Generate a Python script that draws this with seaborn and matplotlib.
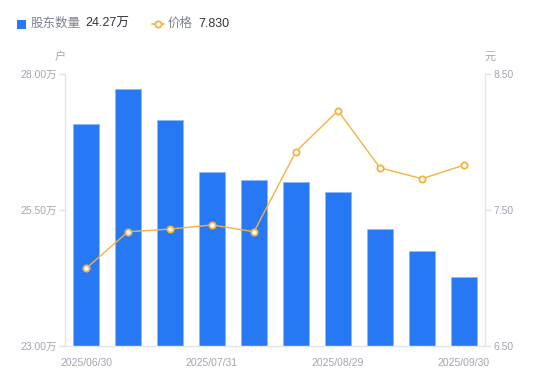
import pandas as pd
import matplotlib
matplotlib.use('Agg')
import matplotlib.pyplot as plt
import seaborn as sns
from matplotlib.lines import Line2D
from matplotlib.patches import Rectangle

# Datos
fechas = ['2025/06/30', '2025/07/10', '2025/07/20', '2025/07/31', '2025/08/08',
          '2025/08/20', '2025/08/29', '2025/09/10', '2025/09/19', '2025/09/30']
accionistas = [27.08, 27.72, 27.15, 26.20, 26.05, 26.01, 25.83, 25.15, 24.75, 24.27]  # 万户
precios = [7.07, 7.34, 7.36, 7.39, 7.34, 7.93, 8.23, 7.81, 7.73, 7.830]
etiquetas_x = ['2025/06/30', '2025/07/31', '2025/08/29', '2025/09/30']
ticks_izq = [23.00, 25.50, 28.00]
ticks_der = [6.50, 7.50, 8.50]

df = pd.DataFrame({'fecha': fechas, 'accionistas': accionistas, 'precio': precios})

sns.set_theme(style='white')
plt.rcParams['font.family'] = ['Liberation Sans', 'Noto Sans CJK SC', 'DejaVu Sans']

azul = '#2778F4'
naranja = '#F5B23D'
gris = '#A3A6B2'
eje = '#E3E4E8'

fig = plt.figure(figsize=(5.5, 3.81), dpi=100)
ax = fig.add_axes([65 / 550, 35 / 381, 420 / 550, 272 / 381])

sns.barplot(data=df, x='fecha', y='accionistas', color=azul, width=0.6,
            saturation=1, edgecolor='#8DB8FA', linewidth=0.6, ax=ax)
ax.set_ylim(23, 28)
ax.set_xlim(-0.5, len(fechas) - 0.5)

ax2 = ax.twinx()
sns.lineplot(data=df, x='fecha', y='precio', sort=False, color=naranja, linewidth=1,
             marker='o', markersize=4.5, markerfacecolor='white',
             markeredgecolor=naranja, markeredgewidth=1.3, ax=ax2)
ax2.set_ylim(6.5, 8.5)
ax2.set_xlim(-0.5, len(fechas) - 0.5)

# Ejes
for a in (ax, ax2):
    for s in a.spines.values():
        s.set_visible(False)
    a.set_xlabel('')
    a.set_ylabel('')
    a.grid(False)
ax.spines['left'].set_visible(True)
ax.spines['bottom'].set_visible(True)
ax2.spines['right'].set_visible(True)
for s in (ax.spines['left'], ax.spines['bottom'], ax2.spines['right']):
    s.set_color(eje)
    s.set_linewidth(1)

ax.set_yticks(ticks_izq)
ax.set_yticklabels([f'{v:.2f}万' for v in ticks_izq])
ax2.set_yticks(ticks_der)
ax2.set_yticklabels([f'{v:.2f}' for v in ticks_der])
ax.set_xticks([fechas.index(f) for f in etiquetas_x])
ax.set_xticklabels(etiquetas_x)

ax.tick_params(axis='y', left=True, length=4, width=1, color=eje, labelsize=7.5,
               labelcolor=gris, pad=2)
ax2.tick_params(axis='y', right=True, length=4, width=1, color=eje, labelsize=7.5,
                labelcolor=gris, pad=2)
ax.tick_params(axis='x', bottom=False, labelsize=7.5, labelcolor=gris, pad=3)

# Unidades
fig.text(60 / 550, 1 - 57 / 381, '户', color=gris, fontsize=8, ha='center', va='center')
fig.text(490 / 550, 1 - 57 / 381, '元', color=gris, fontsize=8, ha='center', va='center')

# Leyenda superior
y_ley = 1 - 24 / 381
fig.patches.append(Rectangle((17 / 550, 1 - 29 / 381), 9 / 550, 9 / 381, transform=fig.transFigure,
                             facecolor=azul, edgecolor='none', figure=fig))
fig.text(31 / 550, y_ley, '股东数量', color='#7E8290', fontsize=9, va='center')
fig.text(85 / 550, y_ley, f'{accionistas[-1]:.2f}万', color='#33343A', fontsize=9, va='center')
fig.lines.append(Line2D([152 / 550, 164 / 550], [y_ley, y_ley], transform=fig.transFigure,
                        color=naranja, linewidth=1.2, marker='o', markevery=[0],
                        markersize=0, figure=fig))
fig.lines.append(Line2D([158 / 550], [y_ley], transform=fig.transFigure, color=naranja,
                        marker='o', markersize=4.5, markerfacecolor='white',
                        markeredgewidth=1.3, linestyle='none', figure=fig))
fig.text(168 / 550, y_ley, '价格', color='#7E8290', fontsize=9, va='center')
fig.text(198 / 550, y_ley, f'{precios[-1]:.3f}', color='#33343A', fontsize=9, va='center')

fig.savefig('out.png', dpi=100)
